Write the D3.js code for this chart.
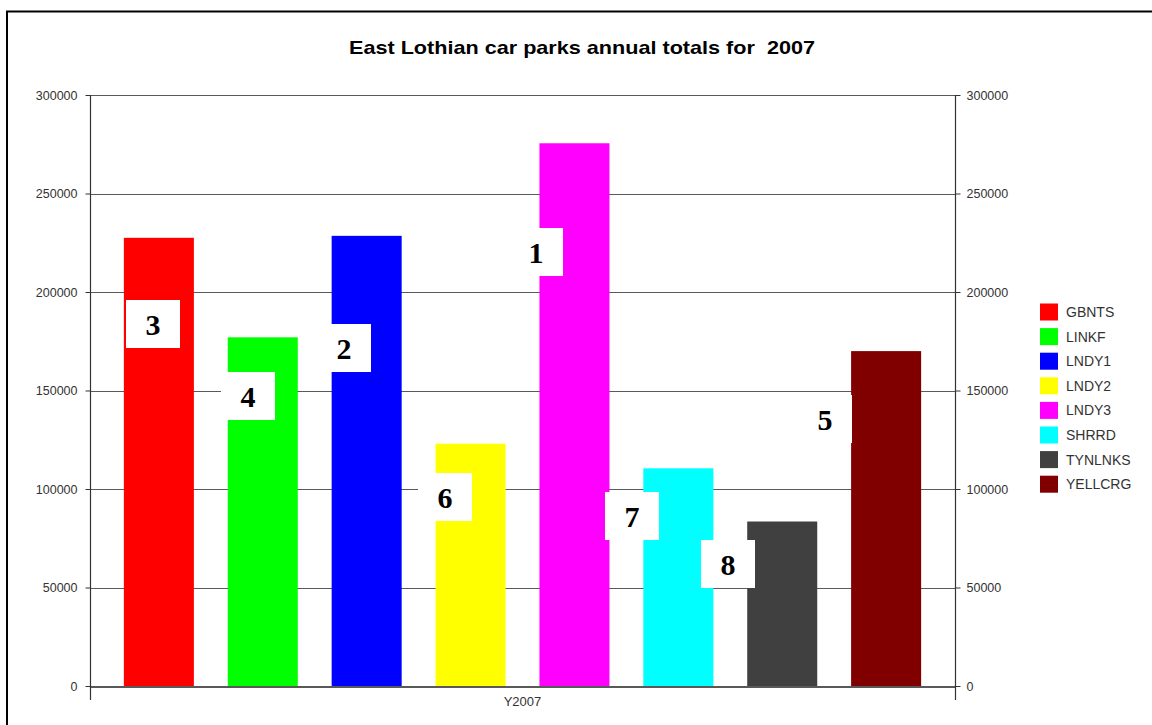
<!DOCTYPE html>
<html>
<head>
<meta charset="utf-8">
<script src="https://cdn.jsdelivr.net/npm/d3@7"></script>
<style>
  html, body { margin: 0; padding: 0; background: #fff; }
  svg { display: block; }
</style>
</head>
<body>
<svg id="chart" width="1152" height="725"></svg>
<script>
// ---- data ----
const title = "East Lothian car parks annual totals for  2007";
const category = "Y2007";
const seriesNames = ["GBNTS", "LINKF", "LNDY1", "LNDY2", "LNDY3", "SHRRD", "TYNLNKS", "YELLCRG"];
const seriesValues = [227500, 177000, 228500, 123000, 275500, 110500, 83500, 170000];
const ranks = [3, 4, 2, 6, 1, 7, 8, 5];
const yTicks = [0, 50000, 100000, 150000, 200000, 250000, 300000];

// ---- style / layout ----
const colors = ["#ff0000", "#00ff00", "#0000ff", "#ffff00", "#ff00ff", "#00ffff", "#404040", "#800000"];
// rank box placement: x offset from bar left (px), box top expressed as a value on the y axis
const rankBoxDx = [2, -7, -15, -18, -30, -38, -46, -53];
const rankBoxTop = [196000, 159400, 183800, 108100, 232500, 98500, 74100, 147700];

const svg = d3.select("#chart");
const W = 1152, H = 725;
const plot = { left: 90, right: 955, top: 95, bottom: 686 };

// outer border (extends beyond right/bottom edges)
svg.append("path")
  .attr("d", `M7,${H + 5} L7,11.5 L${W + 5},11.5`)
  .attr("fill", "none").attr("stroke", "#000").attr("stroke-width", 2);

// title
svg.append("text")
  .attr("x", 582).attr("y", 54)
  .attr("text-anchor", "middle")
  .attr("xml:space", "preserve")
  .style("white-space", "pre")
  .attr("font-family", "Liberation Sans, Arial, sans-serif")
  .attr("font-weight", "bold")
  .attr("font-size", 19)
  .attr("textLength", 466)
  .attr("lengthAdjust", "spacingAndGlyphs")
  .attr("fill", "#000")
  .text(title);

const y = d3.scaleLinear().domain([0, 300000]).range([plot.bottom, plot.top]);
const x = d3.scaleBand().domain(seriesNames).range([plot.left, plot.right]).paddingInner(0.326).paddingOuter(0.326);

// gridlines
svg.append("g").selectAll("line")
  .data(yTicks.filter(d => d > 0))
  .join("line")
  .attr("x1", plot.left).attr("x2", plot.right)
  .attr("y1", d => Math.round(y(d)) + 0.5).attr("y2", d => Math.round(y(d)) + 0.5)
  .attr("stroke", "#5a5a5a").attr("stroke-width", 1.2);

// bars
svg.append("g").selectAll("rect")
  .data(seriesNames.map((n, i) => ({ n, v: seriesValues[i], c: colors[i] })))
  .join("rect")
  .attr("x", d => x(d.n))
  .attr("width", x.bandwidth())
  .attr("y", d => y(d.v))
  .attr("height", d => y(0) - y(d.v))
  .attr("fill", d => d.c);

// axes
const tickFmt = d3.format("d");
const leftAxis = svg.append("g")
  .attr("transform", `translate(${plot.left + 0.5},0)`)
  .call(d3.axisLeft(y).tickValues(yTicks).tickFormat(tickFmt).tickSize(5).tickPadding(8));
const rightAxis = svg.append("g")
  .attr("transform", `translate(${plot.right + 0.5},0)`)
  .call(d3.axisRight(y).tickValues(yTicks).tickFormat(tickFmt).tickSize(5).tickPadding(6));
[leftAxis, rightAxis].forEach(g => {
  g.select(".domain").remove();
  g.selectAll(".tick line").attr("stroke", "#333");
  g.selectAll(".tick text")
    .attr("font-family", "Liberation Sans, Arial, sans-serif")
    .attr("font-size", 12.5)
    .attr("fill", "#333");
  g.append("line")
    .attr("x1", 0).attr("x2", 0)
    .attr("y1", plot.top).attr("y2", plot.bottom + 14)
    .attr("stroke", "#333").attr("stroke-width", 1.2);
});

// category axis
const xCat = d3.scaleBand().domain([category]).range([plot.left, plot.right]);
const catAxis = svg.append("g")
  .attr("transform", `translate(0,${plot.bottom + 0.5})`)
  .call(d3.axisBottom(xCat).tickSize(0).tickPadding(10));
catAxis.select(".domain").attr("stroke", "#222").attr("stroke-width", 1.3);
catAxis.selectAll(".tick text")
  .attr("font-family", "Liberation Sans, Arial, sans-serif")
  .attr("font-size", 13)
  .attr("fill", "#333");

// rank labels (white boxes with bold serif numbers)
const rankG = svg.append("g").selectAll("g")
  .data(seriesNames.map((n, i) => ({ n, r: ranks[i], dx: rankBoxDx[i], top: rankBoxTop[i] })))
  .join("g")
  .attr("transform", d => `translate(${Math.round(x(d.n) + d.dx)},${Math.round(y(d.top))})`);
rankG.append("rect")
  .attr("width", 54).attr("height", 48)
  .attr("fill", "#fff");
rankG.append("text")
  .attr("x", 27).attr("y", 35)
  .attr("text-anchor", "middle")
  .attr("font-family", "Liberation Serif, Times New Roman, serif")
  .attr("font-weight", "bold")
  .attr("font-size", 30)
  .attr("fill", "#000")
  .text(d => d.r);

// legend
const legend = svg.append("g").attr("transform", "translate(1040,312)");
const li = legend.selectAll("g")
  .data(seriesNames.map((n, i) => ({ n, c: colors[i] })))
  .join("g")
  .attr("transform", (d, i) => `translate(0,${i * 24.6})`);
li.append("rect")
  .attr("x", 0).attr("y", -8.5)
  .attr("width", 18).attr("height", 17)
  .attr("fill", d => d.c);
li.append("text")
  .attr("x", 26).attr("y", 0)
  .attr("dy", "0.36em")
  .attr("font-family", "Liberation Sans, Arial, sans-serif")
  .attr("font-size", 14)
  .attr("fill", "#333")
  .text(d => d.n);
</script>
</body>
</html>
